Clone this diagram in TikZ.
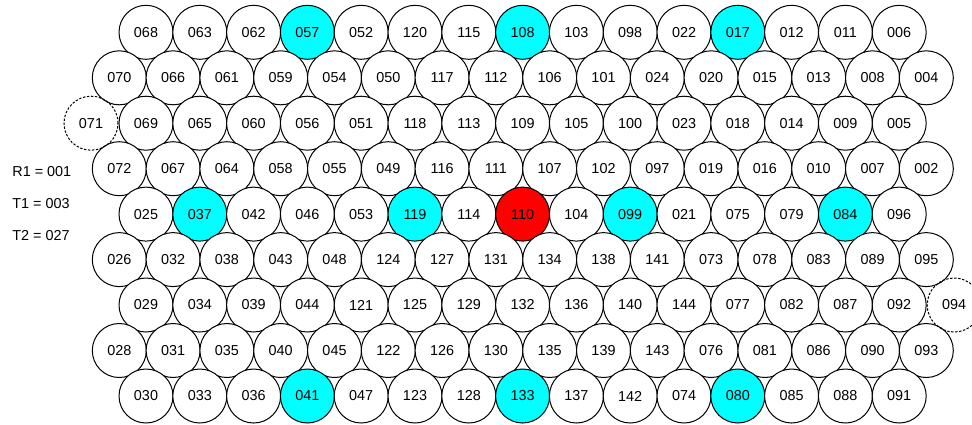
\documentclass[tikz,border=0pt]{standalone}
\usepackage{fontspec}
\setmainfont{Liberation Sans}
\usetikzlibrary{positioning}
\definecolor{cCo}{HTML}{00FFFF}
\definecolor{cHome}{HTML}{FF0000}
\tikzset{
  cell/.style   = {circle, draw=black, fill=white, line width=0.5pt, minimum size=27pt,
                   inner sep=0pt, font=\fontsize{7.2}{8}\selectfont},
  ghost/.style  = {cell, fill=none, dash pattern=on 1.2pt off 0.8pt},
  note/.style   = {anchor=west, inner sep=0pt, font=\fontsize{7.2}{8}\selectfont},
  % co-channel cells and the serving cell
  tint057/.style={fill=cCo}, tint108/.style={fill=cCo}, tint017/.style={fill=cCo},
  tint037/.style={fill=cCo}, tint119/.style={fill=cCo}, tint099/.style={fill=cCo},
  tint084/.style={fill=cCo}, tint041/.style={fill=cCo}, tint133/.style={fill=cCo},
  tint080/.style={fill=cCo}, tint110/.style={fill=cHome},
}

\begin{document}
\begin{tikzpicture}[x=0.5pt, y=-0.5pt]
  \useasboundingbox (0,0) rectangle (972,424);

  % odd rows: 15 cells from x=146, even rows: 16 cells from x=119
  \foreach \lbl [count=\i from 0] in {068,063,062,057,052,120,115,108,103,098,022,017,012,011,006}
    \node[cell, tint\lbl/.try] (c\lbl) at ({146+53.8*\i},32.3) {\lbl};
  \foreach \lbl [count=\i from 0] in {070,066,061,059,054,050,117,112,106,101,024,020,015,013,008,004}
    \node[cell, tint\lbl/.try] (c\lbl) at ({119.3+53.8*\i},77.8) {\lbl};
  \foreach \lbl [count=\i from 0] in {069,065,060,056,051,118,113,109,105,100,023,018,014,009,005}
    \node[cell, tint\lbl/.try] (c\lbl) at ({146+53.8*\i},123.2) {\lbl};
  \foreach \lbl [count=\i from 0] in {072,067,064,058,055,049,116,111,107,102,097,019,016,010,007,002}
    \node[cell, tint\lbl/.try] (c\lbl) at ({119.3+53.8*\i},168.7) {\lbl};
  \foreach \lbl [count=\i from 0] in {025,037,042,046,053,119,114,110,104,099,021,075,079,084,096}
    \node[cell, tint\lbl/.try] (c\lbl) at ({146+53.8*\i},214.1) {\lbl};
  \foreach \lbl [count=\i from 0] in {026,032,038,043,048,124,127,131,134,138,141,073,078,083,089,095}
    \node[cell, tint\lbl/.try] (c\lbl) at ({119.3+53.8*\i},259.6) {\lbl};
  \foreach \lbl [count=\i from 0] in {029,034,039,044,121,125,129,132,136,140,144,077,082,087,092}
    \node[cell, tint\lbl/.try] (c\lbl) at ({146+53.8*\i},305) {\lbl};
  \foreach \lbl [count=\i from 0] in {028,031,035,040,045,122,126,130,135,139,143,076,081,086,090,093}
    \node[cell, tint\lbl/.try] (c\lbl) at ({119.3+53.8*\i},350.5) {\lbl};
  \foreach \lbl [count=\i from 0] in {030,033,036,041,047,123,128,133,137,142,074,080,085,088,091}
    \node[cell, tint\lbl/.try] (c\lbl) at ({146+53.8*\i},396) {\lbl};

  \node[ghost, left=0pt of c069] (c071) {071};
  \node[ghost, right=0pt of c092] (c094) {094};

  \node[note] (r1) at (12,172) {R1 = 001};
  \node[note] (t1) at (12,204) {T1 = 003};
  \node[note] (t2) at (12,236) {T2 = 027};
\end{tikzpicture}
\end{document}
